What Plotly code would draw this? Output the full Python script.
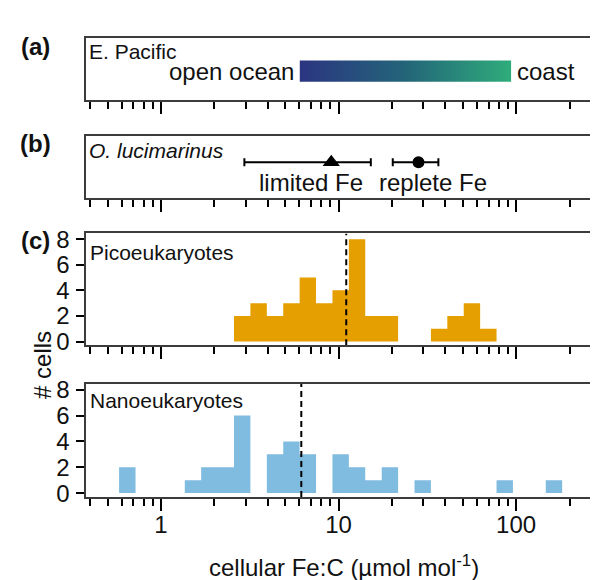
import math
import plotly.graph_objects as go

W, H = 598, 580

# ---------------- data ----------------
# log-spaced histogram bin edges (umol/mol)
bin_edges = [0.581, 0.719, 0.890, 1.101, 1.362, 1.684, 2.084, 2.578, 3.189,
             3.946, 4.881, 6.038, 7.470, 9.241, 11.43, 14.14, 17.50, 21.65,
             26.78, 33.13, 40.98, 50.70, 62.72, 77.60, 95.96, 118.7, 146.9, 181.7]
pico_counts = [0, 0, 0, 0, 0, 0, 0, 2, 3, 2, 3, 5, 3, 4, 8, 2, 2, 0, 0,
               1, 2, 3, 1, 0, 0, 0, 0]
nano_counts = [2, 0, 0, 0, 1, 2, 2, 6, 0, 3, 4, 3, 0, 3, 2, 1, 2, 0, 1,
               0, 0, 0, 0, 1, 0, 0, 1]
pico_median = 11.05
nano_median = 6.17

gradient_extent = [6.05, 93.7]
gradient_labels = ["open ocean", "coast"]

treatments = ["limited Fe", "replete Fe"]
treat_mean = [9.1, 28.2]
treat_low = [2.95, 20.2]
treat_high = [15.2, 36.5]
treat_symbols = ["triangle-up", "circle"]

major_ticks = [1, 10, 100]
major_labels = ["1", "10", "100"]
minor_ticks = [0.4, 0.5, 0.6, 0.7, 0.8, 0.9, 2, 3, 4, 5, 6, 7, 8, 9,
               20, 30, 40, 50, 60, 70, 80, 90, 200, 300]
count_ticks = [0, 2, 4, 6, 8]

PICO_COL = "#E69F00"
NANO_COL = "#80BBE0"
FONT = "Liberation Sans, Arial, sans-serif"
TXT = "#111111"
BOX = "#3c3c3c"


def PX(x):
    return x / W


def PY(y):
    return 1 - y / H


XR = [-0.425, 2.482]
HIST_YR = [-0.3, 8.45]
xdom = [PX(77.5), PX(593.7)]
ydoms = {
    1: [PY(87), PY(22.7)],
    2: [PY(187.8), PY(123.5)],
    3: [PY(339.3), PY(224)],
    4: [PY(495.5), PY(379)],
}

fig = go.Figure()

# (a) E. Pacific gradient bar
fig.add_trace(go.Scatter(
    x=[gradient_extent[0], gradient_extent[1], gradient_extent[1], gradient_extent[0], gradient_extent[0]],
    y=[0.30, 0.30, 0.64, 0.64, 0.30],
    mode="lines", fill="toself", line=dict(width=0),
    fillgradient=dict(type="horizontal",
                      colorscale=[[0, "#2b3581"], [0.5, "#236579"], [1, "#2fac7b"]]),
    xaxis="x", yaxis="y", hoverinfo="skip", showlegend=False))

# (b) O. lucimarinus culture values
for i in range(2):
    fig.add_trace(go.Scatter(
        x=[treat_mean[i]], y=[0.577], mode="markers",
        marker=dict(symbol=treat_symbols[i], color="black",
                    size=15 if i == 0 else 12),
        error_x=dict(type="data", symmetric=False,
                     array=[treat_high[i] - treat_mean[i]],
                     arrayminus=[treat_mean[i] - treat_low[i]],
                     color="black", thickness=2, width=4),
        xaxis="x2", yaxis="y2", showlegend=False))

# (c) histograms + medians
for counts, col, ax, med in [(pico_counts, PICO_COL, "3", pico_median),
                             (nano_counts, NANO_COL, "4", nano_median)]:
    fig.add_trace(go.Scatter(
        x=bin_edges, y=counts + [0], mode="lines", line_shape="hv",
        fill="tozeroy", fillcolor=col, line=dict(width=0, color=col),
        xaxis="x" + ax, yaxis="y" + ax, showlegend=False))
    fig.add_trace(go.Scatter(
        x=[med, med], y=HIST_YR, mode="lines",
        line=dict(color="black", width=2, dash="6px,4px"),
        xaxis="x" + ax, yaxis="y" + ax, showlegend=False))

layout = dict(
    width=W, height=H, margin=dict(l=0, r=0, t=0, b=0),
    paper_bgcolor="white", plot_bgcolor="white", showlegend=False,
    font=dict(family=FONT, color=TXT, size=24),
)

for i in range(1, 5):
    xs = "" if i == 1 else str(i)
    layout["xaxis" + xs] = dict(
        type="log", range=XR, domain=xdom, anchor="y" + xs,
        showgrid=False, zeroline=False,
        showline=True, mirror=True, linecolor=BOX, linewidth=2,
        tickmode="array", tickvals=major_ticks, ticktext=major_labels,
        ticks="outside", ticklen=12, tickwidth=2, tickcolor="black",
        showticklabels=(i == 4), ticklabelstandoff=-7,
        tickfont=dict(size=24, family=FONT, color=TXT),
        minor=dict(tickvals=minor_ticks, ticks="outside", ticklen=7,
                   tickwidth=2, tickcolor="black", showgrid=False),
        fixedrange=True,
    )
    ydef = dict(domain=ydoms[i], anchor="x" + xs, showgrid=False, zeroline=False,
                showline=True, mirror=True, linecolor=BOX, linewidth=2,
                fixedrange=True)
    if i <= 2:
        ydef.update(range=[0, 1], showticklabels=False, ticks="")
    else:
        ydef.update(range=HIST_YR, tickmode="array", tickvals=count_ticks,
                    ticks="outside", ticklen=8, tickwidth=2, tickcolor="black",
                    ticklabelstandoff=1,
                    tickfont=dict(size=24, family=FONT, color=TXT))
    layout["yaxis" + xs] = ydef

anns = []


def ann(text, x, y, xanchor="center", yanchor="middle", size=24, **kw):
    d = dict(text=text, x=x, y=y, xref="paper", yref="paper", showarrow=False,
             xanchor=xanchor, yanchor=yanchor,
             font=dict(size=size, family=FONT, color=TXT))
    d.update(kw)
    anns.append(d)


ann("<b>(a)</b>", PX(28), PY(31.7))
ann("<b>(b)</b>", PX(28), PY(131.7))
ann("<b>(c)</b>", PX(27), PY(231.7))
ann("E. Pacific", PX(78.5), PY(37), xanchor="left", size=21)
ann("<i>O. lucimarinus</i>", PX(79), PY(139), xanchor="left", size=21)
ann("Picoeukaryotes", PX(79.5), PY(243.3), xanchor="left", size=21)
ann("Nanoeukaryotes", PX(79.5), PY(396), xanchor="left", size=21)
ann("# cells", PX(35), PY(359.5), textangle=-90)
ann("cellular Fe:C (µmol mol<sup>-1</sup>)", (xdom[0] + xdom[1]) / 2, PY(567))

# gradient end labels (annotation x on a log axis is given as log10)
anns.append(dict(text=gradient_labels[0], x=math.log10(gradient_extent[0]), y=0.47,
                 xref="x", yref="y", showarrow=False, xanchor="right",
                 yanchor="middle", xshift=-4,
                 font=dict(size=24, family=FONT, color=TXT)))
anns.append(dict(text=gradient_labels[1], x=math.log10(gradient_extent[1]), y=0.47,
                 xref="x", yref="y", showarrow=False, xanchor="left",
                 yanchor="middle", xshift=4,
                 font=dict(size=24, family=FONT, color=TXT)))

# treatment labels under the error bars
label_centers = [6.98, 33.9]
for i in range(2):
    anns.append(dict(text=treatments[i], x=math.log10(label_centers[i]), y=0.25,
                     xref="x2", yref="y2", showarrow=False, xanchor="center",
                     yanchor="middle",
                     font=dict(size=24, family=FONT, color=TXT)))

layout["annotations"] = anns
fig.update_layout(**layout)

fig.write_html("out.html")
